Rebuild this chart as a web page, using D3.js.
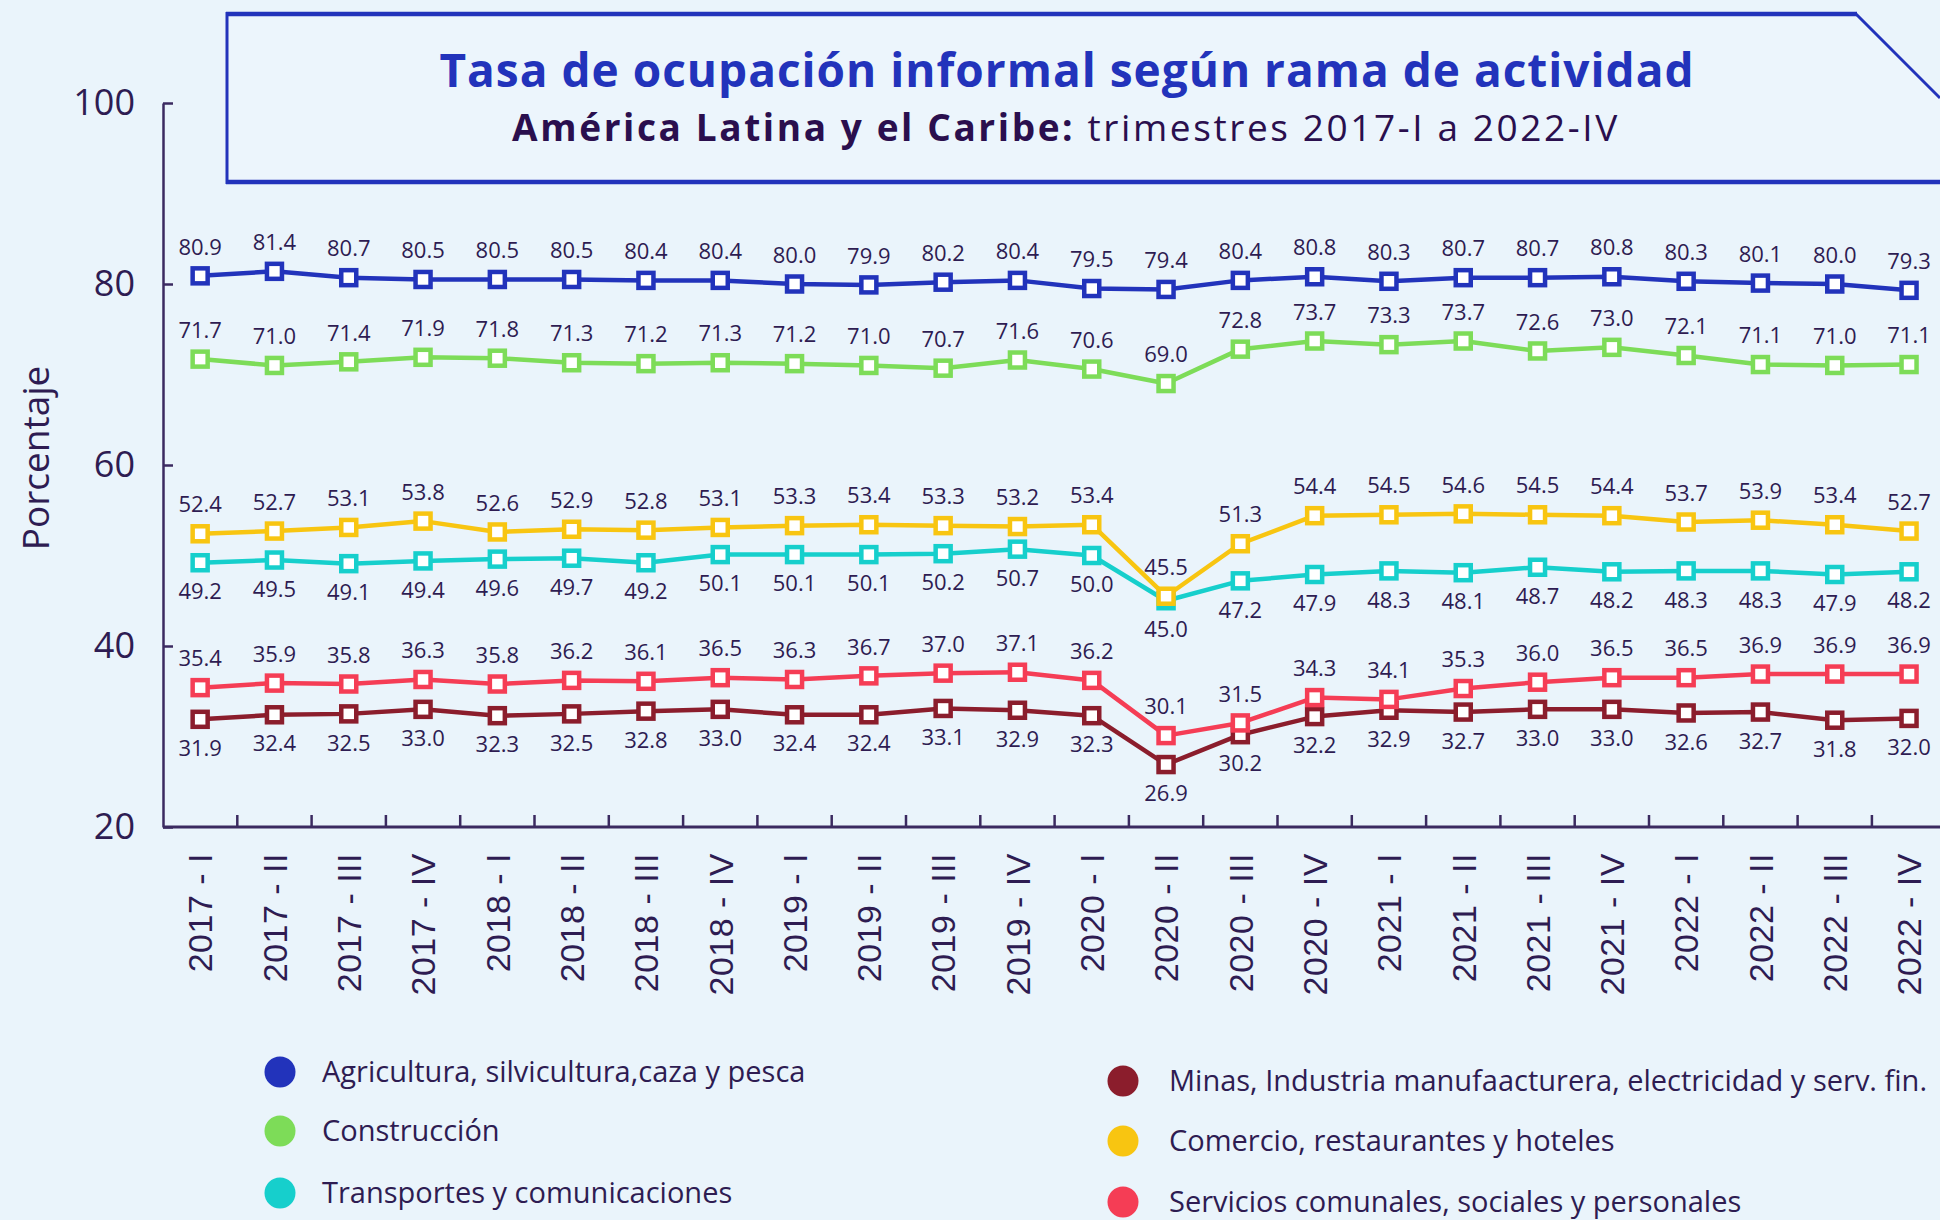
<!DOCTYPE html>
<html><head><meta charset="utf-8">
<script src="https://cdn.jsdelivr.net/npm/d3@7"></script>
<style>
html,body{margin:0;padding:0;background:#eaf4fb;}
svg{display:block;font-family:"Open Sans","Noto Sans",sans-serif;}
</style></head>
<body>
<svg id="chart" width="1940" height="1220"></svg>
<script>
const quarters = ["2017 - I","2017 - II","2017 - III","2017 - IV","2018 - I","2018 - II","2018 - III","2018 - IV","2019 - I","2019 - II","2019 - III","2019 - IV","2020 - I","2020 - II","2020 - III","2020 - IV","2021 - I","2021 - II","2021 - III","2021 - IV","2022 - I","2022 - II","2022 - III","2022 - IV"];
const agricultura = [80.9,81.4,80.7,80.5,80.5,80.5,80.4,80.4,80.0,79.9,80.2,80.4,79.5,79.4,80.4,80.8,80.3,80.7,80.7,80.8,80.3,80.1,80.0,79.3];
const construccion = [71.7,71.0,71.4,71.9,71.8,71.3,71.2,71.3,71.2,71.0,70.7,71.6,70.6,69.0,72.8,73.7,73.3,73.7,72.6,73.0,72.1,71.1,71.0,71.1];
const comercio = [52.4,52.7,53.1,53.8,52.6,52.9,52.8,53.1,53.3,53.4,53.3,53.2,53.4,45.5,51.3,54.4,54.5,54.6,54.5,54.4,53.7,53.9,53.4,52.7];
const transportes = [49.2,49.5,49.1,49.4,49.6,49.7,49.2,50.1,50.1,50.1,50.2,50.7,50.0,45.0,47.2,47.9,48.3,48.1,48.7,48.2,48.3,48.3,47.9,48.2];
const servicios = [35.4,35.9,35.8,36.3,35.8,36.2,36.1,36.5,36.3,36.7,37.0,37.1,36.2,30.1,31.5,34.3,34.1,35.3,36.0,36.5,36.5,36.9,36.9,36.9];
const minas = [31.9,32.4,32.5,33.0,32.3,32.5,32.8,33.0,32.4,32.4,33.1,32.9,32.3,26.9,30.2,32.2,32.9,32.7,33.0,33.0,32.6,32.7,31.8,32.0];
const yTicks = [20,40,60,80,100];

// drawing order (bottom to top) with label placement
const series = [
  {name:"Minas, Industria manufaacturera, electricidad y serv. fin.", values:minas, color:"#8b1d2c", pos:"below"},
  {name:"Servicios comunales, sociales y personales", values:servicios, color:"#f53d55", pos:"above"},
  {name:"Transportes y comunicaciones", values:transportes, color:"#16cfcc", pos:"below"},
  {name:"Comercio, restaurantes y hoteles", values:comercio, color:"#f8c511", pos:"above"},
  {name:"Construcción", values:construccion, color:"#7ddc58", pos:"above"},
  {name:"Agricultura, silvicultura,caza y pesca", values:agricultura, color:"#2233bb", pos:"above"}
];
const legendLeft = ["Agricultura, silvicultura,caza y pesca","Construcción","Transportes y comunicaciones"];
const legendRight = ["Minas, Industria manufaacturera, electricidad y serv. fin.","Comercio, restaurantes y hoteles","Servicios comunales, sociales y personales"];

const svg = d3.select("#chart");
const axisColor = "#3b2a60";
const textColor = "#2e1c52";

svg.append("rect").attr("width",1940).attr("height",1220).attr("fill","#eaf4fb");

const x = d3.scaleBand().domain(quarters).range([163, 163 + 24*74.3]).padding(0);
const y = d3.scaleLinear().domain([20,100]).range([827,103]);
const cx = d => x(d) + x.bandwidth()/2;

// Title box
const box = svg.append("g");
box.append("path").attr("d","M226,14 L1856,14 L1940,98 L1940,182 L226,182 Z").attr("fill","#ecf5fc");
box.append("line").attr("x1",226).attr("y1",14).attr("x2",1857).attr("y2",14).attr("stroke","#2233bb").attr("stroke-width",4.5);
box.append("line").attr("x1",226).attr("y1",182).attr("x2",1940).attr("y2",182).attr("stroke","#2233bb").attr("stroke-width",4.5);
box.append("line").attr("x1",227).attr("y1",12).attr("x2",227).attr("y2",184).attr("stroke","#2233bb").attr("stroke-width",3);
box.append("line").attr("x1",1856).attr("y1",14).attr("x2",1940).attr("y2",98).attr("stroke","#2233bb").attr("stroke-width",3);
svg.append("text").attr("x",1067).attr("y",87).attr("text-anchor","middle")
  .attr("font-size",46).attr("font-weight",700).attr("fill","#2233bb").attr("letter-spacing","1px")
  .text("Tasa de ocupación informal según rama de actividad");
const sub = svg.append("text").attr("x",1066).attr("y",141).attr("text-anchor","middle").attr("font-size",37)
  .attr("fill","#2a0f4e").attr("letter-spacing","2.6px");
sub.append("tspan").attr("font-weight",700).text("América Latina y el Caribe:");
sub.append("tspan").text(" trimestres 2017-I a 2022-IV");

// Y axis
const yAxis = svg.append("g").attr("transform","translate(163,0)")
  .call(d3.axisLeft(y).tickValues(yTicks).tickSize(-10).tickSizeOuter(0).tickPadding(28));
yAxis.select(".domain").attr("stroke",axisColor).attr("stroke-width",2.5);
yAxis.selectAll(".tick line").attr("stroke",axisColor).attr("stroke-width",2.5);
yAxis.selectAll("text").attr("font-size",36).attr("fill",textColor).attr("font-family","Open Sans");

svg.append("text").attr("transform","translate(36,458) rotate(-90)").attr("text-anchor","middle")
  .attr("dy","0.35em").attr("font-size",37).attr("fill",textColor).text("Porcentaje");

// X axis
const xAxis = svg.append("g").attr("transform","translate(0,827)")
  .call(d3.axisBottom(x).tickSize(0).tickSizeOuter(0));
xAxis.select(".domain").remove();
xAxis.selectAll("text").attr("transform","rotate(-90)").attr("x",-26).attr("y",0).attr("dy","0.36em")
  .attr("text-anchor","end").attr("font-size",34).attr("font-weight",500).attr("fill",textColor).attr("letter-spacing","0.5px");
svg.append("line").attr("x1",163).attr("x2",1940).attr("y1",827).attr("y2",827).attr("stroke",axisColor).attr("stroke-width",3);
svg.append("g").selectAll("line").data(quarters.slice(1)).join("line")
  .attr("x1",d=>x(d)).attr("x2",d=>x(d)).attr("y1",827).attr("y2",815)
  .attr("stroke",axisColor).attr("stroke-width",2.5);

// Series
const line = d3.line().x((v,i)=>cx(quarters[i])).y(v=>y(v));
series.forEach(s=>{
  const g = svg.append("g");
  g.append("path").datum(s.values).attr("d",line).attr("fill","none").attr("stroke",s.color).attr("stroke-width",4.5).attr("stroke-linejoin","round");
  g.selectAll("rect").data(s.values).join("rect")
    .attr("x",(v,i)=>cx(quarters[i])-7.5).attr("y",v=>y(v)-7.5)
    .attr("width",15).attr("height",15).attr("fill","#ffffff").attr("stroke",s.color).attr("stroke-width",4.5);
});
series.forEach(s=>{
  svg.append("g").selectAll("text").data(s.values).join("text")
    .attr("x",(v,i)=>cx(quarters[i])).attr("y",v=>y(v) + (s.pos==="above" ? -29 : 29))
    .attr("dy","0.35em").attr("text-anchor","middle").attr("font-size",22).attr("font-weight",500).attr("fill",textColor)
    .text(v=>v.toFixed(1));
});

// Legend
const colorOf = n => series.find(s=>s.name===n).color;
const lg = svg.append("g");
legendLeft.forEach((n,i)=>{
  const yy = [1072,1131,1193][i];
  lg.append("circle").attr("cx",280).attr("cy",yy).attr("r",15.5).attr("fill",colorOf(n));
  lg.append("text").attr("x",322).attr("y",yy).attr("dy","0.35em").attr("font-size",29).attr("fill",textColor).text(n);
});
legendRight.forEach((n,i)=>{
  const yy = [1081,1141,1202][i];
  lg.append("circle").attr("cx",1123).attr("cy",yy).attr("r",15.5).attr("fill",colorOf(n));
  lg.append("text").attr("x",1169).attr("y",yy).attr("dy","0.35em").attr("font-size",29).attr("fill",textColor).text(n);
});
</script>
</body></html>
